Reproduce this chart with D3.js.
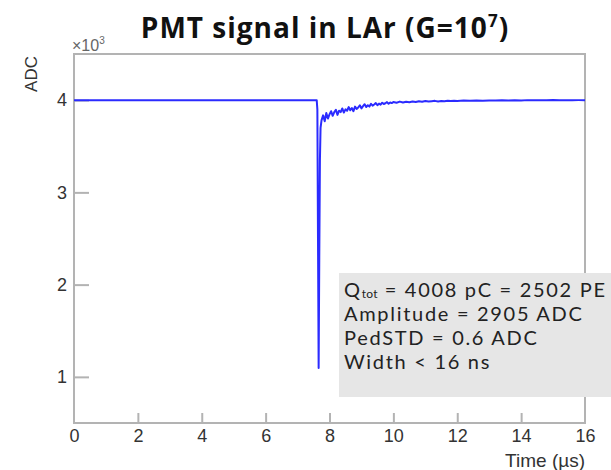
<!DOCTYPE html>
<html>
<head>
<meta charset="utf-8">
<script src="https://cdn.jsdelivr.net/npm/d3@7"></script>
<style>
  body { margin: 0; background: #fff; }
  svg { display: block; }
</style>
</head>
<body>
<svg id="chart" width="611" height="470"></svg>
<script>
// Values
const width = 611,
	height = 470,
	margin = { left: 74, right: 26, top: 54, bottom: 47 };

const xTicks = [0, 2, 4, 6, 8, 10, 12, 14, 16];
const yTicks = [1000, 2000, 3000, 4000];

// baseline + spike
const pulseTime = [0, 7.6, 7.62, 7.64, 7.66, 7.68, 7.7, 7.72];
const pulseADC = [4000, 4000, 3900, 2500, 1095, 2300, 3350, 3700];

// recovery tail
const tailTime = [
	7.75, 7.8, 7.85, 7.9, 7.95, 8.0, 8.05, 8.1, 8.15, 8.2, 8.25, 8.3, 8.35, 8.4,
	8.45, 8.5, 8.55, 8.6, 8.65, 8.7, 8.75, 8.8, 8.85, 8.9, 8.95, 9.0, 9.05, 9.1,
	9.15, 9.2, 9.25, 9.3, 9.35, 9.4, 9.45, 9.5, 9.55, 9.6, 9.65, 9.7, 9.75, 9.8,
	9.85, 9.9, 9.95, 10.0, 10.1, 10.2, 10.3, 10.4, 10.5, 10.6, 10.7, 10.8, 10.9,
	11.0, 11.1, 11.2, 11.3, 11.4, 11.5, 11.6, 11.7, 11.8, 11.9, 12.0, 12.2, 12.4,
	12.6, 12.8, 13.0, 13.2, 13.4, 13.6, 13.8, 14.0, 14.2, 14.4, 14.6, 14.8, 15.0,
	15.2, 15.4, 15.6, 15.8, 16.0,
];
const tailADC = [
	3780, 3835, 3770, 3860, 3800, 3845, 3880, 3830, 3870, 3895, 3840, 3885, 3870,
	3910, 3865, 3900, 3885, 3925, 3890, 3915, 3880, 3930, 3905, 3920, 3945, 3910,
	3935, 3955, 3925, 3945, 3930, 3960, 3940, 3952, 3968, 3945, 3962, 3950, 3972,
	3958, 3966, 3978, 3960, 3974, 3968, 3980, 3972, 3984, 3974, 3982, 3977, 3986,
	3979, 3988, 3982, 3990, 3984, 3988, 3992, 3986, 3991, 3989, 3994, 3990, 3993,
	3991, 3995, 3992, 3996, 3994, 3997, 3995, 3998, 3996, 3999, 3997, 4000, 3998,
	4000, 3998, 4001, 3999, 4000, 3999, 4000, 4000,
];

const infoLines = [
	["Q", "tot", " = 4008 pC = 2502 PE"],
	["Amplitude = 2905 ADC"],
	["PedSTD = 0.6 ADC"],
	["Width < 16 ns"],
];

const frameColor = "#b3b3b3";
const lineColor = "#2b2bff";
const axisFont = "'Liberation Sans', Arial, sans-serif";
const titleFont = "'Open Sans', 'Noto Sans', sans-serif";
const boxFont = "Lato, 'Noto Sans', sans-serif";

const svg = d3.select("#chart");

const x = d3
	.scaleLinear()
	.domain([0, 16])
	.range([margin.left, width - margin.right]);
const y = d3
	.scaleLinear()
	.domain([500, 4500])
	.range([height - margin.bottom, margin.top]);

// title
const title = svg
	.append("text")
	.attr("x", 325)
	.attr("y", 38)
	.attr("text-anchor", "middle")
	.attr("font-family", titleFont)
	.attr("font-weight", "bold")
	.attr("font-size", 28)
	.attr("letter-spacing", 1)
	.attr("fill", "#111");
title.append("tspan").text("PMT signal in LAr (G=10");
title.append("tspan").attr("font-size", 17).attr("dy", -11).text("7");
title.append("tspan").attr("dy", 11).text(")");

// axes
const xAxis = svg
	.append("g")
	.attr("transform", `translate(0,${y.range()[0]})`)
	.call(
		d3
			.axisBottom(x)
			.tickValues(xTicks)
			.tickSizeInner(-10)
			.tickSizeOuter(0)
			.tickPadding(6)
			.tickFormat(d3.format("d"))
	);
const yAxis = svg
	.append("g")
	.attr("transform", `translate(${margin.left},0)`)
	.call(
		d3
			.axisLeft(y)
			.tickValues(yTicks)
			.tickSizeInner(-15)
			.tickSizeOuter(0)
			.tickPadding(7)
			.tickFormat((d) => d / 1000)
	);
[xAxis, yAxis].forEach((ax) => {
	ax.select(".domain").remove();
	ax.selectAll("line").attr("stroke", frameColor).attr("stroke-width", 2);
	ax.selectAll("text")
		.attr("font-family", axisFont)
		.attr("font-size", 18)
		.attr("fill", "#333");
});
xAxis.selectAll(".tick").filter((d) => d === 0 || d === 16).select("line").remove();

// frame
svg
	.append("rect")
	.attr("x", x(0))
	.attr("y", y(4500))
	.attr("width", x(16) - x(0))
	.attr("height", y(500) - y(4500))
	.attr("fill", "none")
	.attr("stroke", frameColor)
	.attr("stroke-width", 2);

// signal
const trace = pulseTime
	.map((t, i) => [t, pulseADC[i]])
	.concat(tailTime.map((t, i) => [t, tailADC[i]]));

svg
	.append("path")
	.datum(trace)
	.attr("fill", "none")
	.attr("stroke", lineColor)
	.attr("stroke-width", 2)
	.attr("stroke-linejoin", "round")
	.attr("d", d3.line().x((d) => x(d[0])).y((d) => y(d[1])));

// axis titles
svg
	.append("text")
	.attr("transform", "translate(37,74) rotate(-90)")
	.attr("text-anchor", "middle")
	.attr("font-family", axisFont)
	.attr("font-size", 17)
	.attr("fill", "#333")
	.text("ADC");

const mult = svg
	.append("text")
	.attr("x", 72)
	.attr("y", 51)
	.attr("font-family", axisFont)
	.attr("font-size", 16)
	.attr("fill", "#666");
mult.append("tspan").text("×10");
mult.append("tspan").attr("font-size", 10).attr("dy", -7).text("3");

svg
	.append("text")
	.attr("x", x(16))
	.attr("y", 467)
	.attr("text-anchor", "end")
	.attr("font-family", axisFont)
	.attr("font-size", 19)
	.attr("fill", "#333")
	.text("Time (µs)");

// info box
svg
	.append("rect")
	.attr("x", 339)
	.attr("y", 273)
	.attr("width", 280)
	.attr("height", 124)
	.attr("fill", "#e6e6e6");

const info = svg
	.append("g")
	.attr("font-family", boxFont)
	.attr("font-size", 20)
	.attr("letter-spacing", 1.7)
	.attr("fill", "#222");

infoLines.forEach((parts, i) => {
	const t = info
		.append("text")
		.attr("x", 344)
		.attr("y", 297 + i * 24);
	if (parts.length === 3) {
		t.append("tspan").text(parts[0]);
		t.append("tspan").attr("font-size", 12).attr("letter-spacing", 0.3).attr("dy", 1).text(parts[1]);
		t.append("tspan").attr("dy", -1).text(parts[2]);
	} else {
		t.text(parts[0]);
	}
});
</script>
</body>
</html>
